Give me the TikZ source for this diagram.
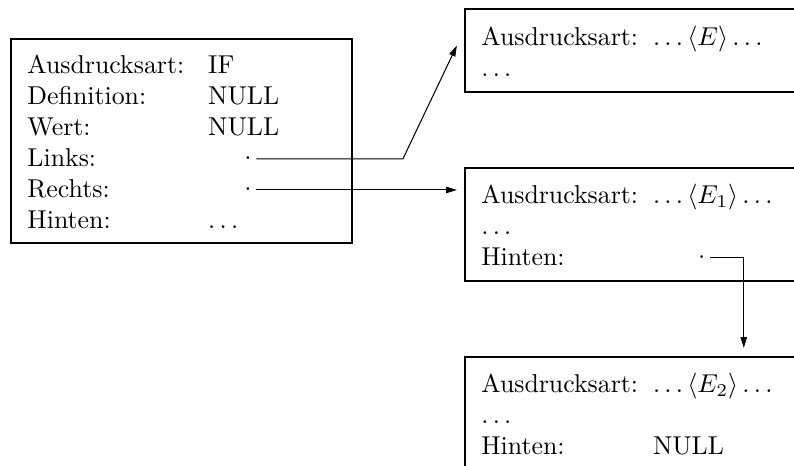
\documentclass[tikz,border=0pt]{standalone}
\usepackage{array}
\usetikzlibrary{arrows.meta}

\begin{document}
\begin{tikzpicture}[>={Triangle[length=4.2pt,width=2.5pt]},
        frame/.style={draw, line width=0.8pt, anchor=north west, inner sep=0pt},
        fields/.style={anchor=base west, inner sep=0pt},
        ptr/.style={inner sep=1.7pt}]
    \clip (0,0) rectangle (10.81,-6.34);
    % Boxes
    \node[frame, minimum width=4.641cm, minimum height=2.769cm] (ifbox) at (0.136,-0.521) {};
    \node[frame, minimum width=6cm, minimum height=1.126cm] (ebox) at (6.315,-0.113) {};
    \node[frame, minimum width=6cm, minimum height=1.538cm] (eonebox) at (6.315,-2.273) {};
    \node[frame, minimum width=6cm, minimum height=3cm] (etwobox) at (6.315,-4.845) {};
    % Fields
    \node[fields] (iffields) at (0.367,-1.0) {%
        \begin{tabular}[t]{@{}p{70pt}@{}l@{}}
            Ausdrucksart: & IF \\
            Definition:   & NULL \\
            Wert:         & NULL \\
            Links:        & \\
            Rechts:       & \\
            Hinten:       & $\ldots$
        \end{tabular}};
    \node[fields] (efields) at (6.546,-0.619) {%
        \begin{tabular}[t]{@{}p{66.5pt}@{}l@{}}
            Ausdrucksart: & $\ldots\langle E\rangle\ldots$ \\
            $\ldots$      &
        \end{tabular}};
    \node[fields] (eonefields) at (6.546,-2.767) {%
        \begin{tabular}[t]{@{}p{66.5pt}@{}l@{}}
            Ausdrucksart: & $\ldots\langle E_1\rangle\ldots$ \\
            $\ldots$      & \\
            Hinten:       &
        \end{tabular}};
    \node[fields] (etwofields) at (6.546,-5.349) {%
        \begin{tabular}[t]{@{}p{66.5pt}@{}l@{}}
            Ausdrucksart: & $\ldots\langle E_2\rangle\ldots$ \\
            $\ldots$      & \\
            Hinten:       & NULL
        \end{tabular}};
    % Pointers
    \node[ptr] (links) at (3.375,-2.164) {$\cdot$};
    \node[ptr] (rechts) at (3.375,-2.586) {$\cdot$};
    \node[ptr] (hinten) at (9.554,-3.511) {$\cdot$};
    \coordinate (linksend) at ([xshift=-0.095cm,yshift=0.07cm]ebox.west);
    \coordinate (rechtsend) at ([xshift=-0.095cm]eonebox.west);
    \coordinate (hintenend) at ([xshift=3.811cm,yshift=0.109cm]etwobox.north west);
    \draw[->] (links.east) -- ([xshift=-0.735cm]linksend |- links.east) -- (linksend);
    \draw[->] (rechts.east) -- (rechts.east -| rechtsend);
    \draw[->] (hinten.east) -| (hintenend);
\end{tikzpicture}
\end{document}
